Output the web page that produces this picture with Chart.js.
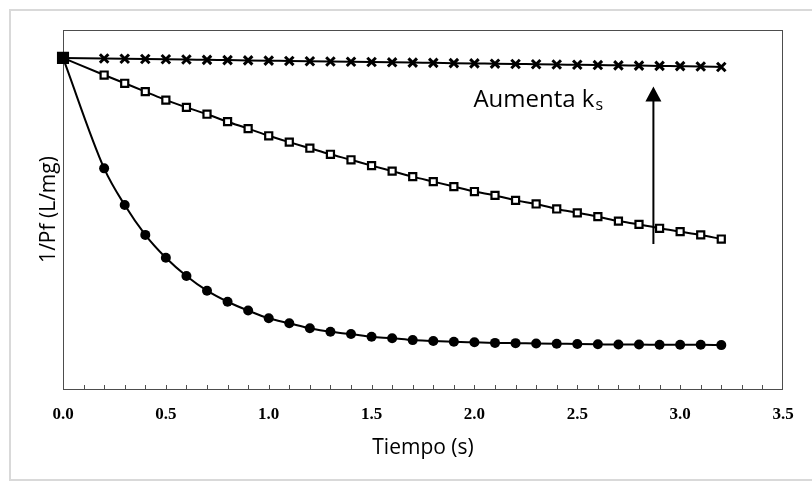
<!DOCTYPE html>
<html>
<head>
<meta charset="utf-8">
<script src="https://cdn.jsdelivr.net/npm/chart.js@4/dist/chart.umd.min.js"></script>
<style>
  html, body { margin: 0; padding: 0; background: #ffffff; }
  canvas { display: block; }
</style>
</head>
<body>
<canvas id="c" width="812" height="487"></canvas>
<script>
// ---- data ----
const times = [0.0, 0.2, 0.3, 0.4, 0.5, 0.6, 0.7, 0.8, 0.9, 1.0, 1.1, 1.2, 1.3, 1.4, 1.5, 1.6,
               1.7, 1.8, 1.9, 2.0, 2.1, 2.2, 2.3, 2.4, 2.5, 2.6, 2.7, 2.8, 2.9, 3.0, 3.1, 3.2];
const seriesCross = [1.199, 1.197, 1.196, 1.195, 1.194, 1.193, 1.192, 1.191, 1.190, 1.189, 1.188,
                     1.187, 1.186, 1.185, 1.184, 1.183, 1.182, 1.181, 1.180, 1.179, 1.178, 1.177,
                     1.176, 1.175, 1.174, 1.173, 1.172, 1.171, 1.170, 1.169, 1.168, 1.166];
const seriesSquare = [1.199, 1.137, 1.107, 1.077, 1.046, 1.020, 0.995, 0.968, 0.943, 0.917, 0.894,
                      0.872, 0.850, 0.830, 0.809, 0.789, 0.769, 0.751, 0.733, 0.715, 0.701, 0.683,
                      0.670, 0.652, 0.638, 0.624, 0.608, 0.596, 0.582, 0.570, 0.558, 0.543];
const seriesCircle = [1.199, 0.799, 0.666, 0.558, 0.475, 0.409, 0.356, 0.316, 0.284, 0.256, 0.238,
                      0.220, 0.207, 0.199, 0.189, 0.184, 0.177, 0.174, 0.171, 0.169, 0.167, 0.166,
                      0.165, 0.164, 0.163, 0.162, 0.161, 0.161, 0.160, 0.160, 0.160, 0.159];
const xTickLabels = ['0.0', '0.5', '1.0', '1.5', '2.0', '2.5', '3.0', '3.5'];
const xTitle = 'Tiempo (s)';
const yTitle = '1/Pf (L/mg)';
const annotationText = 'Aumenta k';
const annotationSub = 's';
// annotation anchor (data units)
const arrowX = 2.87, arrowFrom = 0.525, arrowTo = 1.095;
const textX = 1.995, textY = 1.022;

const toPts = arr => arr.map((v, i) => ({ x: times[i], y: v }));

const frame = {
  id: 'frame',
  beforeDraw(chart) {
    const ctx = chart.ctx;
    ctx.save();
    ctx.fillStyle = '#ffffff';
    ctx.fillRect(0, 0, chart.width, chart.height);
    ctx.strokeStyle = '#d9d9d9';
    ctx.lineWidth = 2;
    ctx.strokeRect(10, 10, 820, 470);
    ctx.restore();
  },
  beforeDatasetsDraw(chart) {
    const { ctx, chartArea: a, scales: { x } } = chart;
    ctx.save();
    ctx.strokeStyle = '#4d4d4d';
    ctx.lineWidth = 1;
    ctx.strokeRect(Math.round(a.left) + 0.5, Math.round(a.top) + 0.5,
                   Math.round(a.right - a.left) - 1, Math.round(a.bottom - a.top));
    ctx.beginPath();
    x.ticks.forEach(t => {
      const px = Math.round(x.getPixelForValue(t.value)) + 0.5;
      if (px > a.left + 2 && px < a.right - 2) {
        ctx.moveTo(px, Math.round(a.bottom));
        ctx.lineTo(px, Math.round(a.bottom) - 4);
      }
    });
    ctx.stroke();
    ctx.restore();
  },
  afterDatasetsDraw(chart) {
    const { ctx, scales: { x, y } } = chart;
    ctx.save();
    const ax = x.getPixelForValue(arrowX);
    const y0 = y.getPixelForValue(arrowFrom);
    const y1 = y.getPixelForValue(arrowTo);
    ctx.strokeStyle = '#000';
    ctx.fillStyle = '#000';
    ctx.lineWidth = 2;
    ctx.beginPath();
    ctx.moveTo(ax, y0);
    ctx.lineTo(ax, y1 + 12);
    ctx.stroke();
    ctx.beginPath();
    ctx.moveTo(ax, y1);
    ctx.lineTo(ax - 8, y1 + 15);
    ctx.lineTo(ax + 8, y1 + 15);
    ctx.closePath();
    ctx.fill();
    // text
    const tx = x.getPixelForValue(textX);
    const ty = y.getPixelForValue(textY);
    ctx.font = '24px "Open Sans"';
    ctx.textBaseline = 'alphabetic';
    ctx.textAlign = 'left';
    ctx.fillText(annotationText, tx, ty);
    const w = ctx.measureText(annotationText).width;
    ctx.font = '16px "Open Sans"';
    ctx.fillText(annotationSub, tx + w + 1, ty + 3);
    ctx.restore();
  }
};

new Chart(document.getElementById('c'), {
  type: 'line',
  data: {
    datasets: [
      {
        label: 'squares',
        data: toPts(seriesSquare),
        borderColor: '#000',
        borderWidth: 2,
        pointStyle: 'rect',
        pointRadius: times.map((t, i) => i === 0 ? 7 : 5),
        pointBackgroundColor: times.map((t, i) => i === 0 ? '#000' : '#fff'),
        pointBorderColor: '#000',
        pointBorderWidth: 2.2,
        cubicInterpolationMode: 'monotone',
        clip: false
      },
      {
        label: 'crosses',
        data: toPts(seriesCross),
        borderColor: '#000',
        borderWidth: 2,
        pointStyle: 'crossRot',
        pointRadius: times.map((t, i) => i === 0 ? 0 : 6),
        pointBorderColor: '#000',
        pointBorderWidth: 3,
        cubicInterpolationMode: 'monotone',
        clip: false
      },
      {
        label: 'circles',
        data: toPts(seriesCircle),
        borderColor: '#000',
        borderWidth: 2,
        pointStyle: 'circle',
        pointRadius: times.map((t, i) => i === 0 ? 0 : 5),
        pointBackgroundColor: '#000',
        pointBorderColor: '#000',
        pointBorderWidth: 0,
        cubicInterpolationMode: 'monotone',
        clip: false
      }
    ]
  },
  options: {
    responsive: false,
    animation: false,
    devicePixelRatio: 1,
    layout: { padding: { left: 0, right: 29, top: 30, bottom: 0 } },
    plugins: { legend: { display: false }, tooltip: { enabled: false } },
    elements: { point: { hoverRadius: 5 } },
    scales: {
      x: {
        type: 'linear',
        min: 0,
        max: 3.5,
        afterFit(s) { s.height = 98; },
        grid: { display: false, drawTicks: false },
        border: { display: false },
        ticks: {
          stepSize: 0.1,
          autoSkip: false,
          maxRotation: 0,
          padding: 15,
          color: '#000',
          font: { family: '"Liberation Serif"', size: 17, weight: 'bold' },
          callback: (v, i) => (i % 5 === 0 ? xTickLabels[i / 5] : '')
        },
        title: {
          display: true,
          text: xTitle,
          color: '#000',
          font: { family: '"Open Sans"', size: 21 },
          padding: { top: 0, bottom: 26 }
        }
      },
      y: {
        type: 'linear',
        min: 0,
        max: 1.3,
        afterFit(s) { s.width = 63; },
        grid: { display: false, drawTicks: false },
        border: { display: false },
        ticks: { display: false },
        title: {
          display: true,
          text: yTitle,
          color: '#000',
          font: { family: '"Open Sans"', size: 21 },
          padding: { top: 36, bottom: 0 }
        }
      }
    }
  },
  plugins: [frame]
});
</script>
</body>
</html>
